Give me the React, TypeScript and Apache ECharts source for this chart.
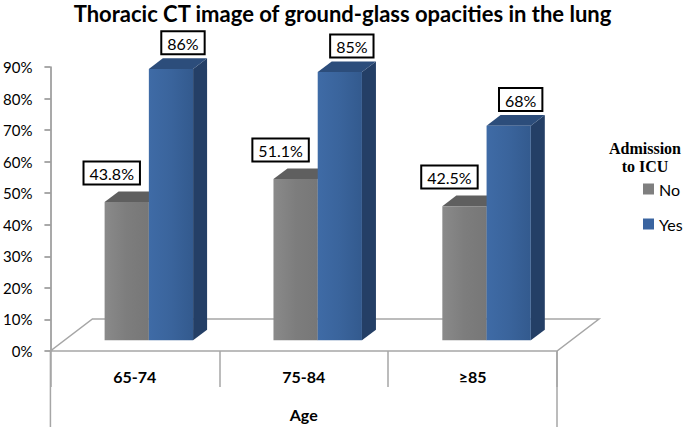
import React, { useEffect, useRef } from "react";
import * as echarts from "echarts";

const titleText = "Thoracic CT image of ground-glass opacities in the lung";
const categories = ["65-74", "75-84", "≥85"];
const seriesNames = ["No", "Yes"];
const noValues = [43.8, 51.1, 42.5];
const yesValues = [86, 85, 68];
const yMin = 0;
const yMax = 90;
const yInterval = 10;
const xAxisName = "Age";
const legendTitle = "Admission\nto ICU";

const DX = 42;
const DY = -32;
const FONT = "Lato, 'Noto Sans', sans-serif";

const palette = {
  No: { front: ["#8a8a8a", "#7d7d7d", "#777777"], top: "#5f5f5f", side: "#5a5a5a" },
  Yes: { front: ["#3f6ba6", "#3a649c", "#335a8e"], top: "#2c4d7b", side: "#243f66" },
};

function makeBarRender(which: "No" | "Yes") {
  return (params: any, api: any) => {
    const cat = api.value(0);
    const val = api.value(1);
    const top = api.coord([cat, val]);
    const base = api.coord([cat, 0]);
    const bw = api.size([1, 0])[0] * 0.262;
    const ox = which === "No" ? top[0] - bw : top[0];
    const fx = ox + DX / 3;
    const ty = top[1] + DY / 3;
    const by = base[1] + DY / 3;
    const ddx = DX / 3;
    const ddy = DY / 3;
    const col = palette[which];
    const front = new echarts.graphic.LinearGradient(0, 0, 1, 0, [
      { offset: 0, color: col.front[0] },
      { offset: 0.5, color: col.front[1] },
      { offset: 1, color: col.front[2] },
    ]);
    const labelX = which === "No" ? fx + bw / 2 - 15 : fx + bw / 2 + 12;
    const labelY = which === "No" ? ty + ddy - 8 : ty + ddy - 5;
    return {
      type: "group",
      children: [
        {
          type: "polygon",
          shape: {
            points: [
              [fx + bw, ty],
              [fx + bw + ddx, ty + ddy],
              [fx + bw + ddx, by + ddy],
              [fx + bw, by],
            ],
          },
          style: { fill: col.side },
        },
        {
          type: "polygon",
          shape: {
            points: [
              [fx, ty],
              [fx + bw, ty],
              [fx + bw + ddx, ty + ddy],
              [fx + ddx, ty + ddy],
            ],
          },
          style: { fill: col.top },
        },
        {
          type: "rect",
          shape: { x: fx, y: ty, width: bw, height: by - ty },
          style: { fill: front },
        },
        {
          type: "text",
          x: labelX,
          y: labelY,
          style: {
            text: `${val}%`,
            fill: "#000",
            font: `16px ${FONT}`,
            align: "center",
            verticalAlign: "bottom",
            backgroundColor: "#fff",
            borderColor: "#000",
            borderWidth: 2,
            padding: [3, 5, 2, 5],
          },
        },
      ],
    };
  };
}

export default function App() {
  const ref = useRef<HTMLDivElement>(null);
  useEffect(() => {
    if (!ref.current) return;
    const chart = echarts.init(ref.current, undefined, { renderer: "svg" });
    const option: any = {
      animation: false,
      backgroundColor: "#fff",
      title: {
        text: titleText,
        left: "center",
        top: 2,
        padding: 0,
        textStyle: { fontFamily: FONT, fontSize: 22, fontWeight: "bold", color: "#000" },
      },
      legend: {
        data: seriesNames,
        orient: "vertical",
        left: 643,
        top: 181,
        padding: 0,
        icon: "rect",
        itemWidth: 11,
        itemHeight: 11,
        itemGap: 19,
        textStyle: { fontFamily: FONT, fontSize: 16, color: "#000" },
      },
      graphic: [
        {
          type: "text",
          x: 645,
          y: 139,
          style: {
            text: legendTitle,
            fill: "#000",
            font: "bold 16px 'Liberation Serif', serif",
            align: "center",
            lineHeight: 18,
          },
        },
      ],
      grid: { left: 50, right: 128, top: 67, bottom: 73 },
      xAxis: {
        type: "category",
        data: categories,
        boundaryGap: true,
        axisLine: { show: false },
        axisTick: { show: true, interval: 0, length: 36, lineStyle: { color: "#a6a6a6", width: 1.5 } },
        axisLabel: { interval: 0, margin: 17, fontFamily: FONT, fontSize: 16, fontWeight: "bold", color: "#000" },
        name: xAxisName,
        nameLocation: "middle",
        nameGap: 55,
        nameTextStyle: { fontFamily: FONT, fontSize: 16, fontWeight: "bold", color: "#000" },
        splitLine: { show: false },
      },
      yAxis: {
        type: "value",
        min: yMin,
        max: yMax,
        interval: yInterval,
        axisLine: { show: true, lineStyle: { color: "#8c8c8c", width: 1.5 } },
        axisTick: { show: true, length: 6, lineStyle: { color: "#8c8c8c", width: 1.5 } },
        axisLabel: { formatter: "{value}%", margin: 18, fontFamily: FONT, fontSize: 15, color: "#000" },
        splitLine: { show: false },
      },
      series: [
        {
          name: "floor",
          type: "custom",
          silent: true,
          data: [[0, 0]],
          encode: { x: 0, y: 1 },
          renderItem: (params: any, api: any) => {
            const cs = params.coordSys;
            const x = cs.x;
            const y = cs.y + cs.height;
            const w = cs.width;
            const H = api.getHeight();
            const line = { stroke: "#a6a6a6", lineWidth: 1.5 };
            return {
              type: "group",
              children: [
                {
                  type: "polygon",
                  shape: { points: [[x, y], [x + w, y], [x + w + DX, y + DY], [x + DX, y + DY]] },
                  style: { fill: "#fff", ...line },
                },
                { type: "line", shape: { x1: x, y1: y, x2: x, y2: H }, style: line },
                { type: "line", shape: { x1: x + w, y1: y, x2: x + w, y2: H }, style: line },
              ],
            };
          },
        },
        {
          name: "No",
          type: "custom",
          itemStyle: { color: "#7f7f7f" },
          data: noValues.map((v, i) => [i, v]),
          encode: { x: 0, y: 1 },
          renderItem: makeBarRender("No"),
        },
        {
          name: "Yes",
          type: "custom",
          itemStyle: { color: "#3a64a0" },
          data: yesValues.map((v, i) => [i, v]),
          encode: { x: 0, y: 1 },
          renderItem: makeBarRender("Yes"),
        },
      ],
    };
    chart.setOption(option);
    return () => chart.dispose();
  }, []);
  return (
    <div
      ref={ref}
      style={{ position: "fixed", left: 0, top: 0, width: 685, height: 427 }}
    />
  );
}
